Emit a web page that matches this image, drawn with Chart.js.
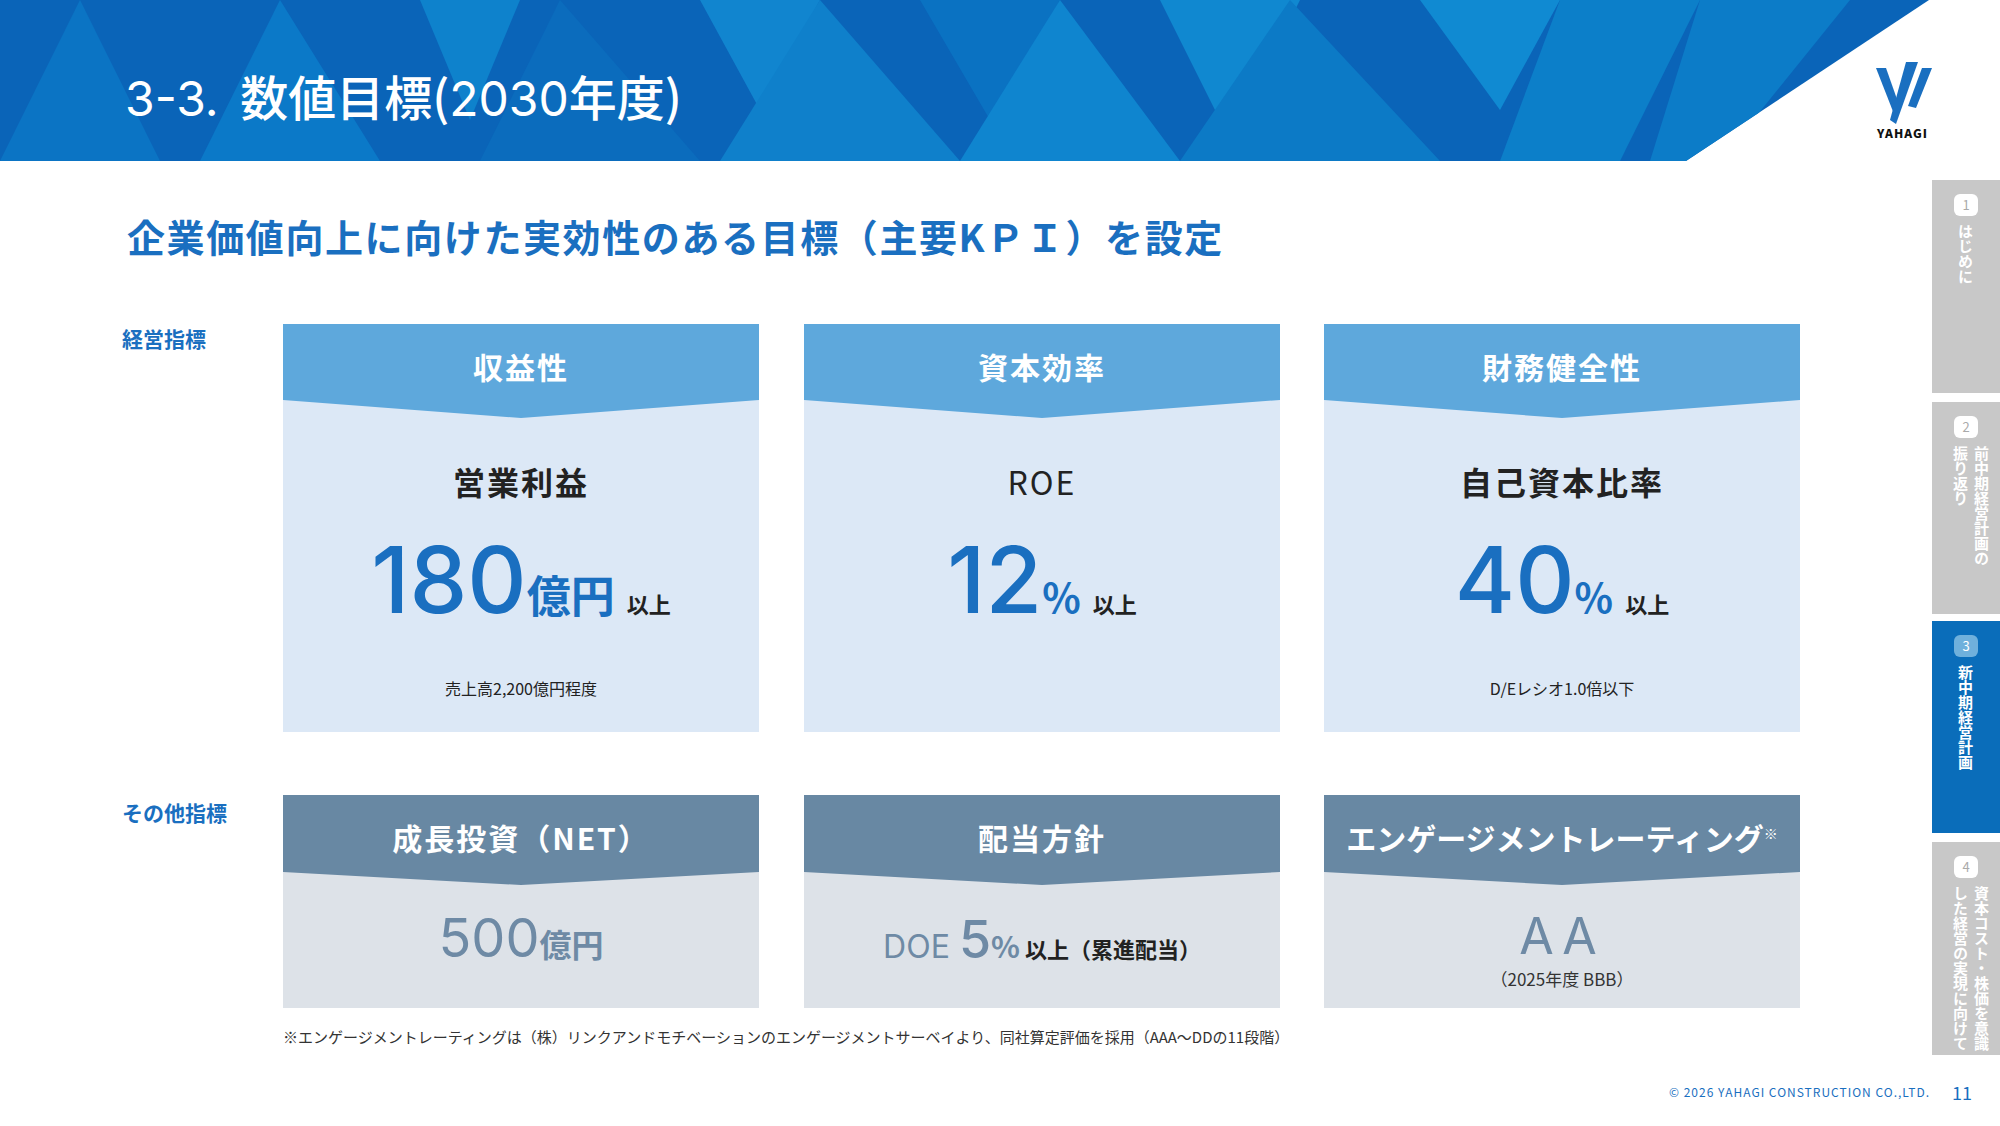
<!DOCTYPE html><html><head><meta charset="utf-8">
<script src="https://cdn.jsdelivr.net/npm/chart.js@4"></script>
<style>
body{margin:0;width:2000px;height:1126px;position:relative;background:#fff;font-family:"Noto Sans CJK JP","Noto Sans",sans-serif;overflow:hidden}
.a{position:absolute}
.card{position:absolute;width:476px}
.hd{position:absolute;left:0;top:0;width:100%;color:#fff;font-weight:700;text-align:center}
.bd{position:absolute;left:0;width:100%}
.n{font-family:Inter,"Noto Sans",sans-serif}
</style></head><body>
<svg class="a" style="left:0;top:0" width="2000" height="161">
<defs><clipPath id="cp"><polygon points="0,0 1929,0 1686,161 0,161"/></clipPath></defs>
<polygon points="0,0 1929,0 1686,161 0,161" fill="#0a64b8"/>
<g id="tri" clip-path="url(#cp)"></g>
</svg>
<div class="a" style="left:125px;top:60px;color:#fff;font-size:48px;font-weight:500"><span class="n" style="font-weight:400">3-3.</span>&nbsp;&nbsp;数値目標(<span class="n" style="font-weight:400">2030</span>年度)</div>
<svg class="a" style="left:1872px;top:58px" width="70" height="80"><polygon points="4,10 14,10 26,44 22,56" fill="#1a6fc0"/><polygon points="34,4 46,4 24,66 18,62" fill="#1a6fc0"/><polygon points="50,10 60,10 44,50 36,48" fill="#1a6fc0"/></svg>
<div class="a" style="left:1877px;top:124px;font-size:12px;font-weight:900;color:#111;letter-spacing:1px">YAHAGI</div>
<div class="a" style="left:127px;top:208px;font-size:38px;font-weight:700;color:#1a6fc0;letter-spacing:1.6px">企業価値向上に向けた実効性のある目標（主要KＰＩ）を設定</div>
<div class="a" style="left:122px;top:323px;font-size:21px;font-weight:700;color:#1a6fc0">経営指標</div>
<div class="a" style="left:122px;top:797px;font-size:21px;font-weight:700;color:#1a6fc0">その他指標</div>
<div id="cards"></div>
<div class="a" style="left:283px;top:1026px;font-size:15px;color:#333">※エンゲージメントレーティングは（株）リンクアンドモチベーションのエンゲージメントサーベイより、同社算定評価を採用（AAA～DDの11段階）</div>
<div class="a" style="right:70px;top:1083px;font-size:12px;color:#1a6fc0;letter-spacing:1px">© 2026 YAHAGI CONSTRUCTION CO.,LTD.</div>
<div class="a" style="left:1952px;top:1079px;font-size:18px;color:#1a6fc0">11</div>
<div id="side"></div>
<canvas id="c" width="1" height="1" class="a" style="left:0;top:0;width:1px;height:1px"></canvas>
<script>
const topTitles=["収益性","資本効率","財務健全性"];
const topLabels=["営業利益","ROE","自己資本比率"];
const topValues=["180","12","40"];
const topUnits=["億円","%","%"];
const topNotes=["売上高2,200億円程度","","D/Eレシオ1.0倍以下"];
const botTitles=["成長投資（NET）","配当方針","エンゲージメントレーティング"];
const sideTabs=["はじめに","前中期経営計画の|振り返り","新中期経営計画","資本コスト・株価を意識|した経営の実現に向けて"];
const cardX=[283,804,1324];
let h='';
for(let i=0;i<3;i++){
 const x=cardX[i];
 h+=`<div class="card" style="left:${x}px;top:324px;height:408px">
 <svg class="a" width="476" height="408"><rect width="476" height="408" fill="#dce8f6"/><polygon points="0,0 476,0 476,76 238,94 0,76" fill="#5ea8dc"/></svg>
 <div class="hd" style="top:20px;font-size:30px;letter-spacing:2px">${topTitles[i]}</div>
 <div class="bd" style="top:134px;text-align:center;font-size:32px;font-weight:${i==1?400:700};color:#222;letter-spacing:2px">${topLabels[i]}</div>
 <div class="bd" style="top:200px;text-align:center;color:#1a6fc0;white-space:nowrap"><span class="n" style="font-size:92px;font-weight:500">${topValues[i]}</span><span style="font-size:${i==0?44:40}px;font-weight:700">${topUnits[i]}</span><span style="font-size:22px;font-weight:700;color:#222;margin-left:12px">以上</span></div>
 <div class="bd" style="top:352px;text-align:center;font-size:16px;color:#222">${topNotes[i]}</div></div>`;
 h+=`<div class="card" style="left:${x}px;top:795px;height:213px">
 <svg class="a" width="476" height="213"><rect width="476" height="213" fill="#dde2e8"/><polygon points="0,0 476,0 476,77 238,90 0,77" fill="#6888a3"/></svg>
 <div class="hd" style="top:20px;font-size:30px;letter-spacing:${i==2?0:2}px">${botTitles[i]}${i==2?'<sup style="font-size:14px">※</sup>':''}</div></div>`;
}
h+=`<div class="a" style="left:283px;top:905px;width:476px;text-align:center;color:#6e8aa5"><span class="n" style="font-size:54px;font-weight:400">500</span><span style="font-size:32px;font-weight:700">億円</span></div>`;
h+=`<div class="a" style="left:804px;top:908px;width:476px;text-align:center;color:#6e8aa5;white-space:nowrap"><span class="n" style="font-size:32px">DOE </span><span class="n" style="font-size:52px;font-weight:500">5</span><span style="font-size:30px;font-weight:700">%</span><span style="font-size:22px;font-weight:700;color:#222"> 以上（累進配当）</span></div>`;
h+=`<div class="a n" style="left:1324px;top:908px;width:476px;text-align:center;color:#6e8aa5;font-size:50px;letter-spacing:8px;line-height:56px">AA</div>`;
h+=`<div class="a" style="left:1324px;top:966px;width:476px;text-align:center;color:#333;font-size:17px">（2025年度 BBB）</div>`;
document.getElementById('cards').innerHTML=h;
const tabY=[180,402,621,842],tabH=[213,212,212,213];
let s='';
sideTabs.forEach((t,i)=>{
 const act=i==2;
 const cols=t.split('|');
 s+=`<div class="a" style="left:1932px;top:${tabY[i]}px;width:68px;height:${tabH[i]}px;background:${act?'#0a6dba':'#c8c8c8'}">
 <div class="a" style="left:22px;top:14px;width:24px;height:22px;border-radius:6px;background:${act?'#6fb0dc':'#fff'};color:${act?'#fff':'#aaa'};font-size:13px;text-align:center;line-height:22px">${i+1}</div>
 <div class="a" style="right:${cols.length>1?8:24}px;top:44px;writing-mode:vertical-rl;color:#fff;font-size:15px;font-weight:700;line-height:21px">${cols.join('<br>')}</div></div>`;
});
document.getElementById('side').innerHTML=s;
const tri=[["80,0 160,161 0,161","#0b74c4"],["280,0 380,161 200,161","#0b79c8"],["420,0 520,0 470,120","#0e82cc"],["560,0 700,161 480,161","#0b6cbd"],["700,0 820,0 760,110","#1185cf"],["820,0 960,161 720,161","#0f80cb"],["920,0 1060,0 990,120","#0a72c2"],["1060,0 1180,161 960,161","#0f85cf"],["1160,0 1300,0 1230,140","#1088d0"],["1290,0 1440,161 1180,161","#0c7ac6"],["1420,0 1560,0 1500,110","#108ad2"],["1560,0 1700,0 1620,161 1500,161","#0c7fc9"],["1700,0 1850,0 1720,161 1650,161","#0c7cc8"]];
document.getElementById('tri').innerHTML=tri.map(p=>`<polygon points="${p[0]}" fill="${p[1]}"/>`).join('');
new Chart(document.getElementById('c'),{type:'bar',data:{labels:[],datasets:[]},options:{responsive:false,animation:false,plugins:{legend:{display:false}},scales:{x:{display:false},y:{display:false}}}});
</script></body></html>
